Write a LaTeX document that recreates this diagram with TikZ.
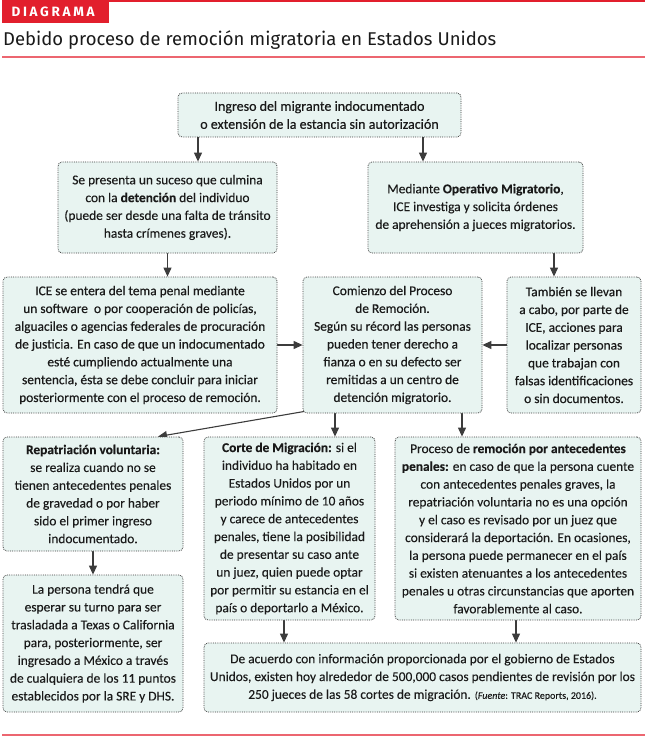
\documentclass[tikz,border=0pt]{standalone}
\usepackage{fontspec}
\setmainfont{Carlito}[FakeBold=0.12]
\newfontfamily\titlefont{Fira Sans}
\newfontfamily\medfont[FakeBold=0.5]{Carlito}
\usetikzlibrary{arrows.meta}
\pgfdeclarelayer{edgelayer}
\pgfdeclarelayer{nodelayer}
\pgfsetlayers{edgelayer,nodelayer,main}
\definecolor{boxfill}{HTML}{E8F4F1}
\definecolor{boxline}{HTML}{3C3C3C}
\definecolor{textgray}{HTML}{1A1A1A}
\definecolor{diagred}{HTML}{E21F2D}
\definecolor{linered}{HTML}{EC6670}
\tikzstyle{box}=[rectangle, rounded corners=4pt, fill=boxfill, draw=boxline, line width=0.8pt, dash pattern=on 0.8pt off 1pt, align=center, inner sep=0pt, text=textgray, font=\fontsize{13.4}{17.8}\selectfont]
\tikzstyle{midbox}=[box, font=\medfont\fontsize{13.4}{17.8}\selectfont]
\tikzstyle{topbox}=[box, font=\medfont\fontsize{14}{18}\selectfont]
\tikzstyle{arrowedge}=[draw=boxline, line width=1.1pt, -{Triangle[length=9pt,width=8pt]}]

\begin{document}
\begin{tikzpicture}[x=1pt, y=-1pt]
	\useasboundingbox (0,0) rectangle (645,738);
	% header
	\fill [diagred] (2,0) rectangle (109,23);
	\draw [diagred, line width=1.2pt] (109,1) -- (645,1);
	\node [anchor=west, text=white, font=\titlefont\bfseries\fontsize{13.5}{15}\selectfont\addfontfeature{LetterSpace=20}] (label) at (8,11.5) {DIAGRAMA};
	\node [anchor=base west, inner sep=0pt, text=textgray, font=\titlefont\fontsize{18.5}{20}\selectfont] (title) at (3,46) {Debido proceso de remoción migratoria en Estados Unidos};
	\draw [linered, line width=2pt] (2,57.5) -- (645,57.5);
	\draw [linered, line width=2pt] (2,735) -- (645,735);
	\begin{pgfonlayer}{nodelayer}
		\node [style=topbox, minimum width=283pt, minimum height=44pt] (1) at (319.5, 115) {Ingreso del migrante indocumentado\\o extensión de la estancia sin autorización};
		\node [style=box, minimum width=219pt, minimum height=91pt] (2) at (167.5, 207.5) {Se presenta un suceso que culmina\\con la \textbf{detención} del individuo\\(puede ser desde una falta de tránsito\\hasta crímenes graves).};
		\node [style=box, minimum width=215pt, minimum height=91pt] (3) at (475.5, 207.5) {Mediante \textbf{Operativo Migratorio},\\ICE investiga y solicita órdenes\\de aprehensión a jueces migratorios.};
		\node [style=midbox, minimum width=274pt, minimum height=136pt] (4) at (140, 345) {ICE se entera del tema penal mediante\\un software\ \ o por cooperación de policías,\\alguaciles o agencias federales de procuración\\de justicia. En caso de que un indocumentado\\esté cumpliendo actualmente una\\sentencia, ésta se debe concluir para iniciar\\posteriormente con el proceso de remoción.};
		\node [style=midbox, minimum width=179pt, minimum height=136pt] (5) at (392.5, 345) {Comienzo del Proceso\\de Remoción.\\Según su récord las personas\\pueden tener derecho a\\fianza o en su defecto ser\\remitidas a un centro de\\detención migratorio.};
		\node [style=midbox, minimum width=134pt, minimum height=136pt] (6) at (574, 345) {También se llevan\\a cabo, por parte de\\ICE, acciones para\\localizar personas\\que trabajan con\\falsas identificaciones\\o sin documentos.};
		\node [style=box, minimum width=180pt, minimum height=114pt] (7) at (93, 494) {\textbf{Repatriación voluntaria:}\\se realiza cuando no se\\tienen antecedentes penales\\de gravedad o por haber\\sido el primer ingreso\\indocumentado.};
		\node [style=box, minimum width=171pt, minimum height=183pt] (8) at (289.5, 528.5) {\textbf{Corte de Migración:} si el\\individuo ha habitado en\\Estados Unidos por un\\periodo mínimo de 10 años\\y carece de antecedentes\\penales, tiene la posibilidad\\de presentar su caso ante\\un juez, quien puede optar\\por permitir su estancia en el\\país o deportarlo a México.};
		\node [style=box, minimum width=246pt, minimum height=183pt] (9) at (518, 528.5) {Proceso de \textbf{remoción por antecedentes}\\\textbf{penales:} en caso de que la persona cuente\\con antecedentes penales graves, la\\repatriación voluntaria no es una opción\\y el caso es revisado por un juez que\\considerará la deportación. En ocasiones,\\la persona puede permanecer en el país\\si existen atenuantes a los antecedentes\\penales u otras circunstancias que aporten\\favorablemente al caso.};
		\node [style=box, minimum width=180pt, minimum height=137pt] (10) at (93, 643.5) {La persona tendrá que\\esperar su turno para ser\\trasladada a Texas o California\\para, posteriormente, ser\\ingresado a México a través\\de cualquiera de los 11 puntos\\establecidos por la SRE y DHS.};
		\node [style=box, minimum width=437pt, minimum height=69pt] (11) at (422.5, 677.5) {De acuerdo con información proporcionada por el gobierno de Estados\\Unidos, existen hoy alrededor de 500,000 casos pendientes de revisión por los\\250 jueces de las 58 cortes de migración. {\fontsize{10}{12}\selectfont(\textit{Fuente}: TRAC Reports, 2016).}};
	\end{pgfonlayer}
	\begin{pgfonlayer}{edgelayer}
		\draw [style=arrowedge] ([xshift=-121.5pt]1.south) to ([xshift=30.5pt]2.north);
		\draw [style=arrowedge] ([xshift=103.5pt]1.south) to ([xshift=-52.5pt]3.north);
		\draw [style=arrowedge] (2.south) to ([xshift=27.5pt]4.north);
		\draw [style=arrowedge] ([xshift=78.5pt]3.south) to ([xshift=-20pt]6.north);
		\draw [style=arrowedge] (4.east) to (5.west);
		\draw [style=arrowedge] (6.west) to (5.east);
		\draw [style=arrowedge] ([xshift=2pt,yshift=2pt]5.south west) to ([xshift=65pt]7.north);
		\draw [style=arrowedge] ([xshift=-57.5pt]5.south) to ([xshift=45.5pt]8.north);
		\draw [style=arrowedge] ([xshift=69.5pt]5.south) to ([xshift=-56pt]9.north);
		\draw [style=arrowedge] (7.south) to (10.north);
		\draw [style=arrowedge] ([xshift=-5.5pt]8.south) to ([xshift=-138.5pt]11.north);
		\draw [style=arrowedge] ([xshift=-2pt]9.south) to ([xshift=93.5pt]11.north);
	\end{pgfonlayer}
\end{tikzpicture}
\end{document}
